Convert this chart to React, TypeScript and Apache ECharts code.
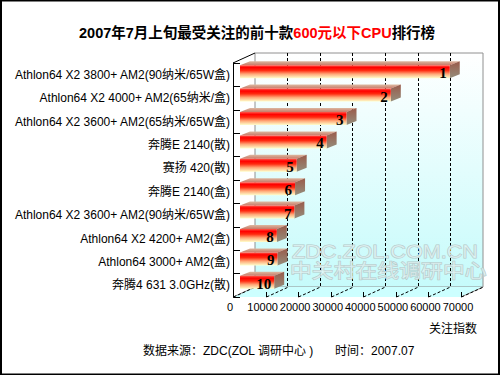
import React, { useEffect, useRef } from "react";
import * as echarts from "echarts";

const categories = [
  "Athlon64 X2 3800+ AM2(90纳米/65W盒)",
  "Athlon64 X2 4000+ AM2(65纳米/盒)",
  "Athlon64 X2 3600+ AM2(65纳米/65W盒)",
  "奔腾E 2140(散)",
  "赛扬 420(散)",
  "奔腾E 2140(盒)",
  "Athlon64 X2 3600+ AM2(90纳米/65W盒)",
  "Athlon64 X2 4200+ AM2(盒)",
  "Athlon64 3000+ AM2(盒)",
  "奔腾4 631 3.0GHz(散)",
];
const values = [64400, 46300, 32700, 26600, 17400, 16900, 16700, 11300, 11500, 10500];
const ranks = ["1", "2", "3", "4", "5", "6", "7", "8", "9", "10"];
const xTicks = [0, 10000, 20000, 30000, 40000, 50000, 60000, 70000];
const X_MAX = 70000;
const X_INTERVAL = 10000;

const titleMain1 = "2007年7月上旬最受关注的前十款";
const titleRed = "600元以下CPU";
const titleMain2 = "排行榜";
const axisNameText = "关注指数";
const sourceText = "数据来源：ZDC(ZOL 调研中心 )";
const timeText = "时间：2007.07";
const watermark1 = "ZDC.ZOL.COM.CN";
const watermark2 = "中关村在线调研中心";

const FONT = '"Liberation Sans", "Noto Sans CJK SC", sans-serif';

// 3D geometry (styling constants)
const DX = 22;
const DY = -10;
const BAR_OFF_X = 7;
const BAR_OFF_Y = -3;
const BAR_DX = 10;
const BAR_DY = -4;
const BAR_H = 13;

export default function App() {
  const ref = useRef<HTMLDivElement>(null);
  useEffect(() => {
    if (!ref.current) return;
    const chart = echarts.init(ref.current, null, { renderer: "svg" });

    const frontGrad = new echarts.graphic.LinearGradient(0, 0, 0, 1, [
      { offset: 0, color: "#ff5a4a" },
      { offset: 0.18, color: "#ff0000" },
      { offset: 0.4, color: "#ff2a10" },
      { offset: 0.68, color: "#ffa878" },
      { offset: 1, color: "#ffffcc" },
    ]);
    const topGrad = new echarts.graphic.LinearGradient(0, 0, 0, 1, [
      { offset: 0, color: "#dcb8a0" },
      { offset: 1, color: "#c87868" },
    ]);
    const sideGrad = new echarts.graphic.LinearGradient(0, 0, 0, 1, [
      { offset: 0, color: "#9a5a4a" },
      { offset: 1, color: "#948e7c" },
    ]);

    const option: any = {
      animation: false,
      backgroundColor: "#ffffff",
      title: {
        text: `{a|${titleMain1}}{b|${titleRed}}{a|${titleMain2}}`,
        left: 74,
        top: 21,
        textStyle: {
          rich: {
            a: { fontSize: 14.5, fontWeight: "bold", color: "#000", fontFamily: FONT },
            b: { fontSize: 14.5, fontWeight: "bold", color: "#ff0000", fontFamily: FONT },
          },
        },
      },
      grid: [
        { left: 233, top: 63, width: 228, height: 234, show: false },
        {
          left: 255,
          top: 53,
          width: 228,
          height: 234,
          show: true,
          backgroundColor: new echarts.graphic.LinearGradient(0, 0, 0, 1, [
            { offset: 0, color: "#ffffff" },
            { offset: 1, color: "#c6fbfb" },
          ]),
          borderColor: "#909090",
          borderWidth: 1,
        },
      ],
      xAxis: [
        {
          gridIndex: 0,
          type: "value",
          min: 0,
          max: X_MAX,
          interval: X_INTERVAL,
          axisLine: { show: false },
          axisTick: { show: false },
          splitLine: { show: false },
          axisLabel: {
            color: "#000",
            fontSize: 11,
            fontFamily: FONT,
            margin: 4,
            padding: [0, 6, 0, 0],
            hideOverlap: false,
            showMaxLabel: true,
            formatter: (v: number) => String(v),
          },
        },
        {
          gridIndex: 1,
          type: "value",
          min: 0,
          max: X_MAX,
          interval: X_INTERVAL,
          axisLine: { show: false },
          axisTick: { show: false },
          axisLabel: { show: false },
          splitLine: {
            show: true,
            showMinLine: false,
            showMaxLine: false,
            lineStyle: { color: "#000", type: [3, 2], width: 1 },
          },
        },
      ],
      yAxis: [
        {
          gridIndex: 0,
          type: "category",
          data: categories,
          inverse: true,
          axisLine: { show: true, lineStyle: { color: "#000", width: 1 } },
          axisTick: { show: true, inside: true, length: 7, lineStyle: { color: "#000" } },
          splitLine: { show: false },
          axisLabel: { color: "#000", fontSize: 12, fontFamily: FONT, margin: 3 },
        },
        {
          gridIndex: 1,
          type: "category",
          data: categories,
          inverse: true,
          show: false,
        },
      ],
      series: [
        {
          type: "custom",
          xAxisIndex: 0,
          yAxisIndex: 0,
          silent: true,
          z: 1,
          data: [[0, 0]],
          encode: { x: 0, y: 1 },
          renderItem: (params: any, api: any) => {
            const cs = params.coordSys;
            const x0 = cs.x;
            const y0 = cs.y;
            const x1 = cs.x + cs.width;
            const y1 = cs.y + cs.height;
            return {
              type: "group",
              children: [
                {
                  type: "polygon",
                  shape: { points: [[x0, y1], [x0 + DX, y1 + DY], [x1 + DX, y1 + DY], [x1, y1]] },
                  style: { fill: "#ccffff", stroke: "none" },
                },
                {
                  type: "line",
                  shape: { x1: x0, y1: y1, x2: x0 + DX, y2: y1 + DY },
                  style: { stroke: "#909090", lineWidth: 1 },
                },
                {
                  type: "line",
                  shape: { x1: x1, y1: y1, x2: x1 + DX, y2: y1 + DY },
                  style: { stroke: "#909090", lineWidth: 1 },
                },
                {
                  type: "line",
                  shape: { x1: x0, y1: y0, x2: x0 + DX, y2: y0 + DY },
                  style: { stroke: "#000", lineWidth: 1 },
                },
              ],
            };
          },
        },
        {
          type: "custom",
          xAxisIndex: 0,
          yAxisIndex: 0,
          silent: true,
          z: 2,
          data: xTicks.map((t) => [t, 0]),
          encode: { x: 0, y: 1 },
          renderItem: (params: any, api: any) => {
            const cs = params.coordSys;
            const yb = cs.y + cs.height;
            const p = api.coord([api.value(0), 0]);
            const x = Math.round(p[0]) + 0.5;
            return {
              type: "group",
              children: [
                {
                  type: "line",
                  shape: { x1: x, y1: yb - 5, x2: x, y2: yb },
                  style: { stroke: "#000", lineWidth: 1 },
                },
                {
                  type: "line",
                  shape: { x1: x, y1: yb, x2: x + DX, y2: yb + DY },
                  style: { stroke: "#000", lineWidth: 1, lineDash: [3, 2] },
                },
              ],
            };
          },
        },
        {
          type: "custom",
          xAxisIndex: 0,
          yAxisIndex: 0,
          silent: true,
          z: 5,
          data: values.map((v, i) => [v, i]),
          encode: { x: 0, y: 1 },
          renderItem: (params: any, api: any) => {
            const v = api.value(0);
            const i = api.value(1);
            const pe = api.coord([v, i]);
            const p0 = api.coord([0, i]);
            const yc = pe[1] + BAR_OFF_Y;
            const xa = p0[0] + BAR_OFF_X;
            const xb = pe[0] + BAR_OFF_X;
            const top = yc - BAR_H / 2;
            const bot = yc + BAR_H / 2;
            return {
              type: "group",
              children: [
                {
                  type: "polygon",
                  shape: { points: [[xa, top], [xa + BAR_DX, top + BAR_DY], [xb + BAR_DX, top + BAR_DY], [xb, top]] },
                  style: { fill: topGrad },
                },
                {
                  type: "polygon",
                  shape: { points: [[xb, top], [xb + BAR_DX, top + BAR_DY], [xb + BAR_DX, bot + BAR_DY], [xb, bot]] },
                  style: { fill: sideGrad },
                },
                {
                  type: "rect",
                  shape: { x: xa, y: top, width: xb - xa, height: BAR_H },
                  style: { fill: frontGrad },
                },
                {
                  type: "text",
                  x: xb - 3,
                  y: yc + 1.5,
                  style: {
                    text: ranks[i],
                    fill: "#000",
                    font: 'bold 15px "Liberation Serif", serif',
                    align: "right",
                    verticalAlign: "middle",
                  },
                },
              ],
            };
          },
        },
      ],
      graphic: [
        {
          type: "text",
          x: 292,
          y: 243,
          scaleX: 1.2,
          z: 3,
          silent: true,
          style: {
            text: watermark1,
            font: '18px "Liberation Sans", sans-serif',
            fill: "rgba(235,250,250,0.6)",
            stroke: "#b4c8c8",
            lineWidth: 1,
          },
        },
        {
          type: "text",
          x: 290,
          y: 260,
          scaleX: 1.15,
          z: 3,
          silent: true,
          style: {
            text: watermark2,
            font: '19px "Noto Sans CJK SC", sans-serif',
            fill: "rgba(235,250,250,0.6)",
            stroke: "#b4c8c8",
            lineWidth: 1,
          },
        },
        {
          type: "text",
          right: 23,
          top: 323,
          style: { text: axisNameText, font: `12px ${FONT}`, fill: "#000" },
        },
        {
          type: "text",
          left: 143,
          top: 345,
          style: { text: sourceText, font: `12px ${FONT}`, fill: "#000" },
        },
        {
          type: "text",
          left: 335,
          top: 345,
          style: { text: timeText, font: `12px ${FONT}`, fill: "#000" },
        },
        {
          type: "rect",
          shape: { x: 1, y: 0.5, width: 498, height: 374 },
          style: { fill: "none", stroke: "#000", lineWidth: 2 },
          silent: true,
        },
      ],
    };
    chart.setOption(option);
    return () => chart.dispose();
  }, []);
  return (
    <div
      ref={ref}
      style={{ position: "fixed", left: 0, top: 0, width: 500, height: 375 }}
    />
  );
}
